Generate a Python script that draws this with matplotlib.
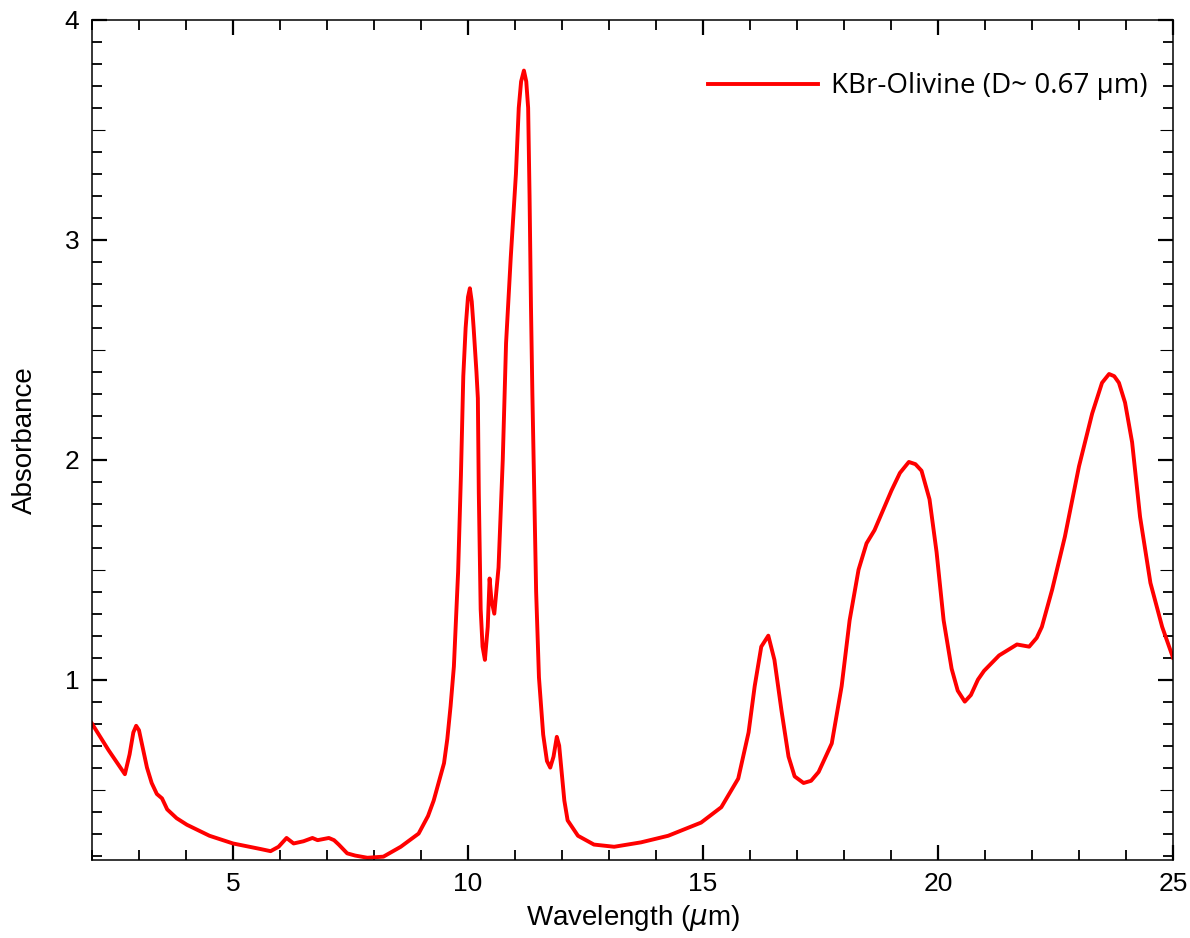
import numpy as np
import matplotlib
matplotlib.use("Agg")
import matplotlib.pyplot as plt
from matplotlib.ticker import MultipleLocator, FixedLocator

# spectrum
wavelength = [
    2.00, 2.35, 2.70, 2.80, 2.88, 2.94, 3.00, 3.08, 3.17, 3.27, 3.38, 3.49,
    3.60, 3.80, 4.02, 4.50, 5.00, 5.58, 5.80, 5.97, 6.14, 6.29, 6.50, 6.69,
    6.80, 7.04, 7.15, 7.25, 7.43, 7.60, 7.86, 8.20, 8.57, 8.95, 9.15, 9.27,
    9.40, 9.49, 9.56, 9.63, 9.70, 9.79, 9.85, 9.90, 9.95, 10.00, 10.04, 10.08,
    10.12, 10.18, 10.21, 10.23, 10.27, 10.31, 10.36, 10.42, 10.46, 10.50, 10.56, 10.65,
    10.74, 10.81, 10.91, 11.02, 11.08, 11.13, 11.19, 11.24, 11.28, 11.31, 11.34, 11.37,
    11.41, 11.45, 11.51, 11.60, 11.68, 11.75, 11.82, 11.89, 11.94, 11.98, 12.05, 12.12,
    12.34, 12.68, 13.11, 13.68, 14.26, 14.96, 15.39, 15.75, 15.97, 16.10, 16.24, 16.39,
    16.52, 16.67, 16.82, 16.95, 17.14, 17.30, 17.46, 17.74, 17.95, 18.12, 18.31, 18.48,
    18.65, 19.01, 19.19, 19.38, 19.52, 19.65, 19.82, 19.97, 20.12, 20.29, 20.42, 20.57,
    20.70, 20.85, 20.98, 21.30, 21.68, 21.94, 22.10, 22.21, 22.43, 22.70, 23.00, 23.28,
    23.49, 23.64, 23.75, 23.85, 23.98, 24.13, 24.30, 24.52, 24.77, 25.00,
]
absorbance = [
    0.80, 0.68, 0.57, 0.66, 0.76, 0.79, 0.77, 0.69, 0.60, 0.53, 0.48, 0.46,
    0.41, 0.37, 0.34, 0.29, 0.255, 0.23, 0.22, 0.24, 0.28, 0.255, 0.265, 0.28,
    0.27, 0.28, 0.27, 0.25, 0.21, 0.20, 0.19, 0.195, 0.24, 0.30, 0.38, 0.45,
    0.55, 0.62, 0.73, 0.88, 1.06, 1.49, 1.93, 2.38, 2.60, 2.74, 2.78, 2.72,
    2.60, 2.40, 2.28, 1.85, 1.32, 1.15, 1.09, 1.24, 1.46, 1.36, 1.30, 1.51,
    2.00, 2.53, 2.92, 3.30, 3.60, 3.72, 3.77, 3.72, 3.60, 3.20, 2.70, 2.30,
    1.85, 1.40, 1.01, 0.75, 0.63, 0.60, 0.65, 0.74, 0.70, 0.61, 0.45, 0.36,
    0.29, 0.25, 0.24, 0.26, 0.29, 0.35, 0.42, 0.55, 0.76, 0.97, 1.15, 1.20,
    1.09, 0.86, 0.65, 0.56, 0.53, 0.54, 0.58, 0.71, 0.97, 1.27, 1.50, 1.62,
    1.68, 1.86, 1.94, 1.99, 1.98, 1.95, 1.82, 1.58, 1.27, 1.05, 0.95, 0.90,
    0.93, 1.00, 1.04, 1.11, 1.16, 1.15, 1.19, 1.24, 1.41, 1.65, 1.97, 2.21,
    2.35, 2.39, 2.38, 2.35, 2.26, 2.08, 1.74, 1.44, 1.24, 1.10,
]
series_label = "KBr-Olivine (D~ 0.67 µm)"

plt.rcParams['font.family'] = ['Liberation Sans', 'DejaVu Sans']

fig = plt.figure(figsize=(11.9, 9.38), dpi=100)
ax = fig.add_axes([0.0773, 0.0832, 0.9084, 0.8955])

ax.plot(wavelength, absorbance, color='#ff0000', lw=2.8, label=series_label,
        solid_joinstyle='round')

ax.set_xlim(2, 25)
ax.set_ylim(0.18, 4)

ax.xaxis.set_major_locator(FixedLocator([5, 10, 15, 20, 25]))
ax.xaxis.set_minor_locator(MultipleLocator(1))
ax.yaxis.set_major_locator(FixedLocator([1, 2, 3, 4]))
ax.yaxis.set_minor_locator(FixedLocator(
    [v / 10 for v in range(2, 40) if v % 5 != 0]))

ax.tick_params(which='both', direction='in', top=True, right=True,
               labelsize=19, pad=9)
ax.tick_params(which='major', length=11, width=1.6)
ax.tick_params(which='minor', length=7, width=1.3)
for s in ax.spines.values():
    s.set_linewidth(1.1)

# thin half-unit ticks on both y sides
for side in ['left', 'right']:
    sec = ax.secondary_yaxis(side)
    sec.set_yticks([0.5, 1.5, 2.5, 3.5])
    sec.tick_params(direction='in', length=9.5, width=0.8, labelleft=False,
                    labelright=False)
    sec.spines[side].set_visible(False)

ax.set_xlabel("Wavelength ($\\mu$m)", fontsize=20, labelpad=5)
ax.set_ylabel("Absorbance", fontsize=20, labelpad=19)

leg = ax.legend(loc='center right', bbox_to_anchor=(0.977, 0.921),
                frameon=False, borderpad=0, borderaxespad=0,
                handlelength=3.95, handletextpad=0.5,
                prop={'family': 'Open Sans', 'size': 20})

fig.savefig("out.png", dpi=100)
